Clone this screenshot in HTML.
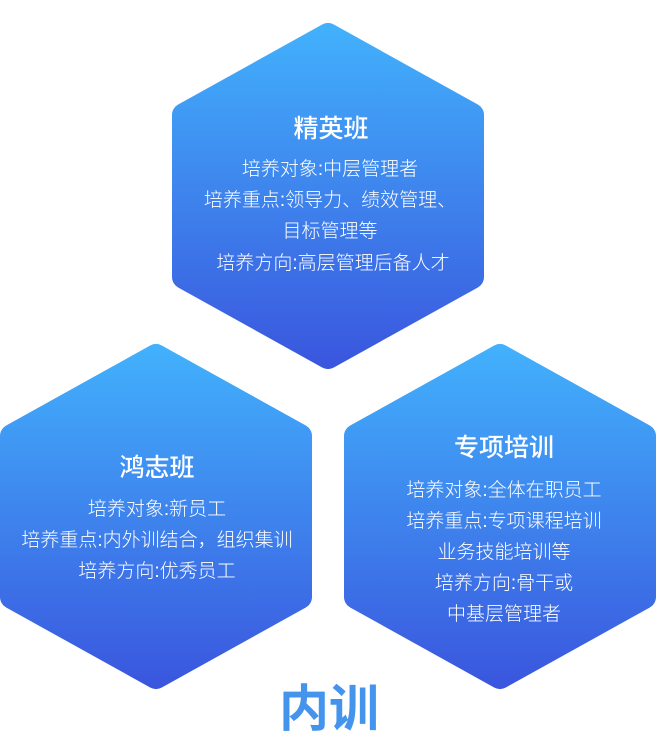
<!DOCTYPE html>
<html><head><meta charset="utf-8"><style>
html,body{margin:0;padding:0;background:#fff;width:656px;height:739px;overflow:hidden}
svg text{font-family:"Liberation Sans","Noto Sans CJK SC",sans-serif;fill:#fff;text-anchor:middle}
</style></head><body>
<svg width="656" height="739" viewBox="0 0 656 739">
<defs>
<linearGradient id="g1" gradientUnits="userSpaceOnUse" x1="0" y1="22" x2="0" y2="370"><stop offset="0" stop-color="#42b2fc"/><stop offset="1" stop-color="#3a55de"/></linearGradient>
<linearGradient id="g2" gradientUnits="userSpaceOnUse" x1="0" y1="343" x2="0" y2="690"><stop offset="0" stop-color="#42b2fc"/><stop offset="1" stop-color="#3a55de"/></linearGradient>
</defs>
<g stroke-linejoin="round" stroke-width="24">
<polygon fill="url(#g1)" stroke="url(#g1)" points="328,35 472,115 472,277 328,357 184,277 184,115"/>
<polygon fill="url(#g2)" stroke="url(#g2)" points="156,356 300,436 300,597 156,677 12,597 12,436"/>
<polygon fill="url(#g2)" stroke="url(#g2)" points="500,356 644,436 644,597 500,677 356,597 356,436"/>
</g>
<text x="331" y="137" font-size="25" font-weight="500">精英班</text>
<text x="330" y="175" font-size="19" font-weight="300">培养对象:中层管理者</text>
<text x="330" y="206" font-size="19" font-weight="300">培养重点:领导力、绩效管理、</text>
<text x="330" y="237" font-size="19" font-weight="300">目标管理等</text>
<text x="333" y="269" font-size="19" font-weight="300">培养方向:高层管理后备人才</text>
<text x="157" y="476" font-size="25" font-weight="500">鸿志班</text>
<text x="157" y="515" font-size="19" font-weight="300">培养对象:新员工</text>
<text x="157" y="546" font-size="19" font-weight="300">培养重点:内外训结合，组织集训</text>
<text x="157" y="577" font-size="19" font-weight="300">培养方向:优秀员工</text>
<text x="504" y="456" font-size="25" font-weight="500">专项培训</text>
<text x="504" y="496" font-size="19" font-weight="300">培养对象:全体在职员工</text>
<text x="504" y="527" font-size="19" font-weight="300">培养重点:专项课程培训</text>
<text x="504" y="558" font-size="19" font-weight="300">业务技能培训等</text>
<text x="504" y="589" font-size="19" font-weight="300">培养方向:骨干或</text>
<text x="504" y="620" font-size="19" font-weight="300">中基层管理者</text>
<text x="329" y="726" font-size="50" font-weight="bold" style="fill:#4494ee">内训</text>
</svg>
</body></html>
